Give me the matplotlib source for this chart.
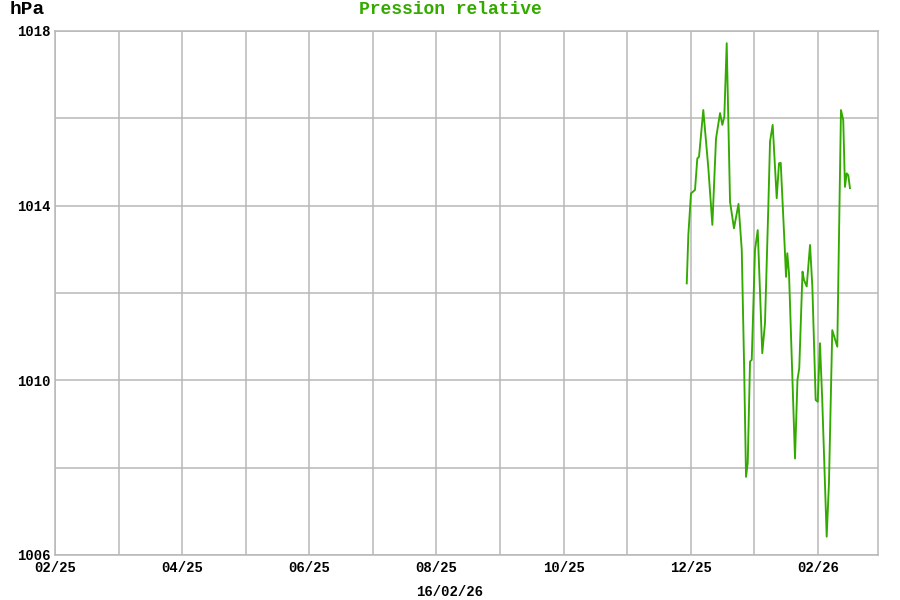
import pandas as pd
import matplotlib
matplotlib.use('Agg')
import matplotlib.pyplot as plt
from matplotlib.ticker import FixedLocator, MultipleLocator, FuncFormatter

# relative pressure readings (hPa)
times = ['2025-11-29 02:00', '2025-11-29 20:00', '2025-12-01 02:00', '2025-12-03 01:00',
	'2025-12-04 04:00', '2025-12-05 00:00', '2025-12-07 02:00', '2025-12-09 13:00',
	'2025-12-11 12:00', '2025-12-13 07:00', '2025-12-15 06:00', '2025-12-16 09:00',
	'2025-12-17 08:00', '2025-12-18 12:00', '2025-12-20 03:00', '2025-12-22 01:00',
	'2025-12-24 06:00', '2025-12-25 20:00', '2025-12-26 23:00', '2025-12-27 22:00',
	'2025-12-28 18:00', '2025-12-29 21:00', '2025-12-30 17:00', '2026-01-01 07:00',
	'2026-01-02 15:00', '2026-01-04 20:00', '2026-01-06 04:00', '2026-01-07 19:00',
	'2026-01-08 15:00', '2026-01-09 22:00', '2026-01-11 21:00', '2026-01-13 00:00',
	'2026-01-13 20:00', '2026-01-15 22:00', '2026-01-16 10:00', '2026-01-17 01:00',
	'2026-01-17 21:00', '2026-01-20 19:00', '2026-01-22 00:00', '2026-01-22 21:00',
	'2026-01-24 11:00', '2026-01-25 04:00', '2026-01-26 12:00', '2026-01-28 03:00',
	'2026-01-29 06:00', '2026-01-30 21:00', '2026-01-31 21:00', '2026-02-01 21:00',
	'2026-02-02 21:00', '2026-02-04 20:00', '2026-02-05 20:00', '2026-02-07 07:00',
	'2026-02-08 04:00', '2026-02-09 12:00', '2026-02-11 03:00', '2026-02-12 03:00',
	'2026-02-12 21:00', '2026-02-13 15:00', '2026-02-14 08:00', '2026-02-15 02:00']
pressure = [1012.22, 1013.33, 1014.28, 1014.36,
	1015.08, 1015.12, 1016.19, 1014.86,
	1013.56, 1015.54, 1016.12, 1015.85,
	1016.04, 1017.72, 1014.09, 1013.48,
	1014.04, 1012.99, 1010.39, 1007.79,
	1008.11, 1010.43, 1010.47, 1012.99,
	1013.44, 1010.62, 1011.31, 1013.98,
	1015.47, 1015.85, 1014.17, 1014.97,
	1014.98, 1012.91, 1012.37, 1012.91,
	1012.45, 1008.21, 1010.01, 1010.28,
	1012.49, 1012.30, 1012.15, 1013.10,
	1012.15, 1009.55, 1009.51, 1010.85,
	1009.55, 1006.42, 1007.64, 1011.15,
	1011.00, 1010.77, 1016.19, 1015.96,
	1014.43, 1014.74, 1014.70, 1014.40]
month_labels = ['02/25', '04/25', '06/25', '08/25', '10/25', '12/25', '02/26']
y_labels = [1006, 1010, 1014, 1018]
title = 'Pression relative'
unit = 'hPa'
date_label = '16/02/26'

green = '#33aa00'
grid_gray = '#b8b8b8'
mono = 'Liberation Mono'

#axis is in months since feb 2025, each month same width
def month_pos(ts):
	ts = pd.Timestamp(ts)
	frac = (ts.day - 1 + ts.hour / 24) / ts.days_in_month
	return (ts.year - 2025) * 12 + (ts.month - 2) + frac

def month_label(v, pos):
	i = int(round(v)) // 2
	if i < len(month_labels):
		return month_labels[i]
	return ''

x = [month_pos(t) for t in times]

fig = plt.figure(figsize=(9, 6), dpi=100)
ax = fig.add_axes([55/900, 45/600, 823/900, 524/600])

ax.plot(x, pressure, color=green, lw=1.35)

ax.set_xlim(0, 12.944)
ax.set_ylim(1006, 1018)

ax.xaxis.set_major_locator(FixedLocator(range(0, 13, 2)))
ax.xaxis.set_minor_locator(FixedLocator(range(0, 13)))
ax.xaxis.set_major_formatter(FuncFormatter(month_label))
ax.yaxis.set_major_locator(FixedLocator(y_labels))
ax.yaxis.set_minor_locator(MultipleLocator(2))

ax.grid(True, which='both', color=grid_gray, lw=1.1)
ax.set_axisbelow(True)
for s in ax.spines.values():
	s.set_color(grid_gray)
	s.set_linewidth(1.1)

ax.tick_params(which='both', length=0)
ax.tick_params(axis='x', pad=4)
ax.tick_params(axis='y', pad=3)
for lab in ax.get_xticklabels() + ax.get_yticklabels():
	lab.set_family(mono)
	lab.set_weight('bold')
	lab.set_fontsize(10)

fig.text(450/900, 1 - 10/600, title, color=green, family=mono, weight='bold',
	fontsize=13, ha='center', va='center')
fig.text(10/900, 1 - 10/600, unit, color='black', family=mono, weight='bold',
	fontsize=14, ha='left', va='center')
fig.text(450/900, 1 - 592/600, date_label, color='black', family=mono, weight='bold',
	fontsize=10, ha='center', va='center')

fig.savefig('out.png', dpi=100)
